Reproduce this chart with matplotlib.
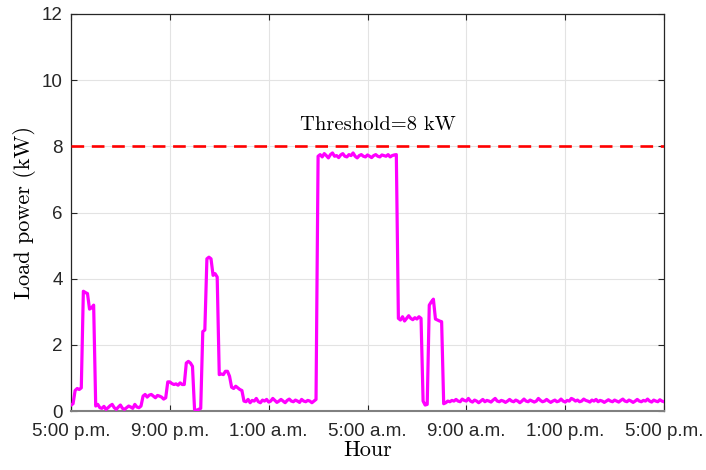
import numpy as np
import matplotlib
matplotlib.use("Agg")
import matplotlib.pyplot as plt

# Load power (kW) sampled every 5 minutes, from 5:00 p.m. to 5:00 p.m. next day
sample_minutes = 5
load_kw = [
    # 5:00 p.m. - 6:00 p.m.
    0.18, 0.22, 0.62, 0.68, 0.65, 0.7, 3.62, 3.58, 3.55, 3.08, 3.12, 3.2,
    0.15, 0.2, 0.1, 0.08, 0.14, 0.05, 0.1, 0.16, 0.2, 0.1, 0.05, 0.12,
    0.18, 0.08, 0.05, 0.1, 0.15, 0.12, 0.08, 0.2, 0.12, 0.1, 0.15,
    0.45, 0.5, 0.42, 0.48, 0.5, 0.45, 0.4, 0.47, 0.45, 0.42, 0.36, 0.4,
    0.88, 0.88, 0.83, 0.8, 0.82, 0.78, 0.85, 0.8, 0.8,
    1.45, 1.5, 1.45, 1.35,
    0.05, 0.02, 0.05, 0.08,
    2.4, 2.45, 4.6, 4.65, 4.6, 4.1, 4.15, 4.05,
    1.1, 1.12, 1.1, 1.2, 1.2, 1.05,
    0.72, 0.68, 0.75, 0.7, 0.65, 0.62,
    0.3, 0.28, 0.35, 0.25, 0.32, 0.3, 0.38, 0.28, 0.25, 0.33, 0.3, 0.35,
    0.27, 0.3, 0.38, 0.32, 0.26, 0.3, 0.35, 0.3, 0.25, 0.32, 0.36, 0.3,
    0.28, 0.33, 0.3, 0.26, 0.35, 0.3, 0.28, 0.32, 0.3, 0.25, 0.3,
    0.35,
    7.7, 7.75, 7.68, 7.78, 7.72, 7.65, 7.75, 7.8, 7.7, 7.72, 7.66, 7.74,
    7.78, 7.7, 7.68, 7.75, 7.72, 7.8, 7.7, 7.65, 7.72, 7.75, 7.7, 7.68,
    7.74, 7.7, 7.66, 7.72, 7.75, 7.7, 7.68, 7.74, 7.72, 7.7, 7.75, 7.68,
    7.72, 7.74, 7.75,
    2.8, 2.75, 2.85, 2.72, 2.8, 2.88, 2.8, 2.76, 2.82, 2.78, 2.85, 2.8,
    0.3, 0.18, 0.2, 3.2, 3.3, 3.38, 2.78, 2.75, 2.72, 2.7,
    0.22, 0.25, 0.3, 0.28, 0.32, 0.3, 0.35, 0.3, 0.28, 0.36, 0.32, 0.3,
    0.38, 0.3, 0.27, 0.33, 0.3, 0.25, 0.3, 0.35, 0.28, 0.32, 0.3, 0.27,
    0.33, 0.38, 0.3, 0.28, 0.32, 0.3, 0.26, 0.3, 0.35, 0.3, 0.28, 0.33,
    0.3, 0.25, 0.3, 0.36, 0.3, 0.28, 0.33, 0.3, 0.27, 0.3, 0.38, 0.32,
    0.28, 0.3, 0.35, 0.3, 0.26, 0.3, 0.33, 0.28, 0.3, 0.36, 0.3, 0.27,
    0.32, 0.3, 0.38, 0.35, 0.3, 0.33, 0.28, 0.3, 0.36, 0.32, 0.3, 0.27,
    0.33, 0.3, 0.35, 0.28, 0.32, 0.3, 0.26, 0.3, 0.34, 0.3, 0.28, 0.33,
    0.3, 0.27, 0.32, 0.36, 0.3, 0.28, 0.33, 0.3, 0.26, 0.3, 0.35, 0.3,
    0.28, 0.32, 0.3, 0.36, 0.3, 0.27, 0.33, 0.3, 0.28, 0.34, 0.3, 0.28,
]
threshold_kw = 8
threshold_label = "Threshold=8 kW"
xtick_hours = [0, 4, 8, 12, 16, 20, 24]
xtick_labels = ["5:00 p.m.", "9:00 p.m.", "1:00 a.m.", "5:00 a.m.",
                "9:00 a.m.", "1:00 p.m.", "5:00 p.m."]
ytick_values = [0, 2, 4, 6, 8, 10, 12]

hours = np.arange(len(load_kw)) * sample_minutes / 60.0

fig = plt.figure(figsize=(7.06, 4.70), dpi=100)
ax = fig.add_axes([71 / 706, 1 - 411 / 470, (664 - 71) / 706, (411 - 14) / 470])

ax.grid(True, color="#e3e3e3", linewidth=0.8, zorder=0)
ax.set_axisbelow(True)

ax.plot(hours, load_kw, color="#ff00ff", linewidth=2.3, zorder=3)
ax.axhline(threshold_kw, color="#ff0000", linewidth=1.9, dashes=(4.8, 2.9), zorder=4)
ax.text(12.4, 8.64, threshold_label, family="cmr10", fontsize=14.8,
        ha="center", va="center")

ax.set_xlim(0, 24)
ax.set_ylim(0, 12)
ax.set_xticks(xtick_hours)
ax.set_xticklabels(xtick_labels, family="Liberation Sans", fontsize=13.5)
ax.set_yticks(ytick_values)
ax.set_yticklabels([str(v) for v in ytick_values], family="Liberation Sans", fontsize=13.5)
ax.tick_params(direction="in", length=4, width=0.8, color="#262626",
               top=True, right=True, labelcolor="#262626")
ax.tick_params(axis="x", pad=8.8)
ax.tick_params(axis="y", pad=6)

for s in ax.spines.values():
    s.set_color("#262626")
    s.set_linewidth(0.9)
ax.spines["bottom"].set_color("#808080")
ax.spines["bottom"].set_linewidth(1.5)

ax.set_xlabel("Hour", family="cmr10", fontsize=16, labelpad=0)
ax.set_ylabel("Load power (kW)", family="cmr10", fontsize=16, labelpad=4)

fig.savefig("out.png", dpi=100)
